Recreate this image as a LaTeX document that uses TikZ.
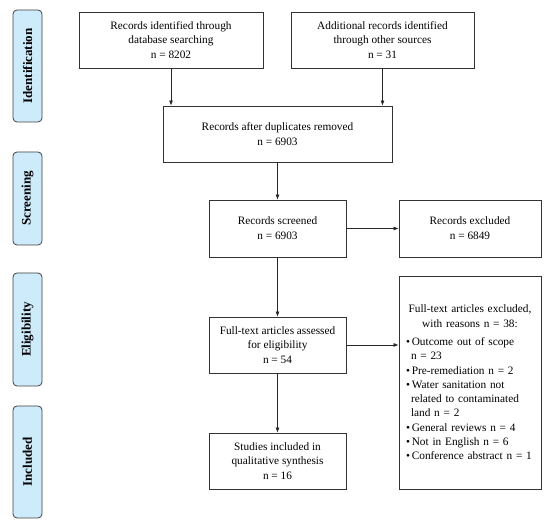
\documentclass[tikz,border=0pt]{standalone}
\usepackage{fontspec}
\setmainfont{Liberation Serif}
\usepackage{xcolor}
\usetikzlibrary{arrows.meta, positioning, calc}
\definecolor{phasefill}{RGB}{206,235,252}
\begin{document}
\begin{tikzpicture}[x=1pt, y=-1pt,
    box/.style={draw=black!80, line width=0.8pt, align=center, font=\fontsize{11.3}{14.8}\selectfont, inner sep=2pt},
    phase/.style={draw=black!75, line width=0.8pt, fill=phasefill, rounded corners=4pt, rotate=90, minimum height=29pt, font=\fontsize{13}{15}\selectfont\bfseries},
    arr/.style={-{Latex[length=5pt, width=4pt]}, line width=0.7pt, black!85}]
        \useasboundingbox (0,0) rectangle (550,526);

        % phase labels
        \node[phase, minimum width=112pt] (ident) at (27.5,66) {Identification};
        \node[phase, minimum width=93pt] (screen) at (27.5,198.5) {Screening};
        \node[phase, minimum width=113pt] (elig) at (27.5,329.5) {Eligibility};
        \node[phase, minimum width=112pt] (incl) at (27.5,462) {Included};

        % flow boxes
        \node[box, minimum width=184pt, minimum height=56pt] (db) at (171,40) {Records identified through\\database searching\\n = 8202};
        \node[box, minimum width=183pt, minimum height=56pt] (other) at (382.5,40) {Additional records identified\\through other sources\\n = 31};
        \node[box, minimum width=229pt, minimum height=56pt] (dup) at (277.5,134) {Records after duplicates removed\\n = 6903};
        \node[box, minimum width=137pt, minimum height=57pt] (scr) at (277.5,228.5) {Records screened\\n = 6903};
        \node[box, minimum width=142pt, minimum height=57pt] (excl) at (470,228.5) {Records excluded\\n = 6849};
        \node[box, minimum width=137pt, minimum height=56pt] (full) at (277.5,345) {Full-text articles assessed\\for eligibility\\n = 54};
        \node[box, minimum width=137pt, minimum height=56pt] (incd) at (277.5,461) {Studies included in\\qualitative synthesis\\n = 16};
        \node[box, minimum width=142pt, minimum height=213pt, text width=134pt, align=left, font=\fontsize{11.3}{14.3}\selectfont] (reasons) at (470,382.5) {%
            {\centering Full-text articles excluded,\\ with reasons n = 38:\par}\vspace{4pt}
            \hspace*{3pt}\textbullet\,Outcome out of scope\\ \hspace*{8pt}n = 23\\
            \hspace*{3pt}\textbullet\,Pre-remediation n = 2\\
            \hspace*{3pt}\textbullet\,Water sanitation not\\ \hspace*{8pt}related to contaminated\\ \hspace*{8pt}land n = 2\\
            \hspace*{3pt}\textbullet\,General reviews n = 4\\
            \hspace*{3pt}\textbullet\,Not in English n = 6\\
            \hspace*{3pt}\textbullet\,Conference abstract n = 1};

        \draw[arr] (db.south) -- (db.south |- dup.north);
        \draw[arr] (other.south) -- (other.south |- dup.north);
        \draw[arr] (dup) -- (scr);
        \draw[arr] (scr) -- (excl);
        \draw[arr] (scr) -- (full);
        \draw[arr] (full.east) -- (full.east -| reasons.west);
        \draw[arr] (full) -- (incd);
    \end{tikzpicture}
\end{document}
